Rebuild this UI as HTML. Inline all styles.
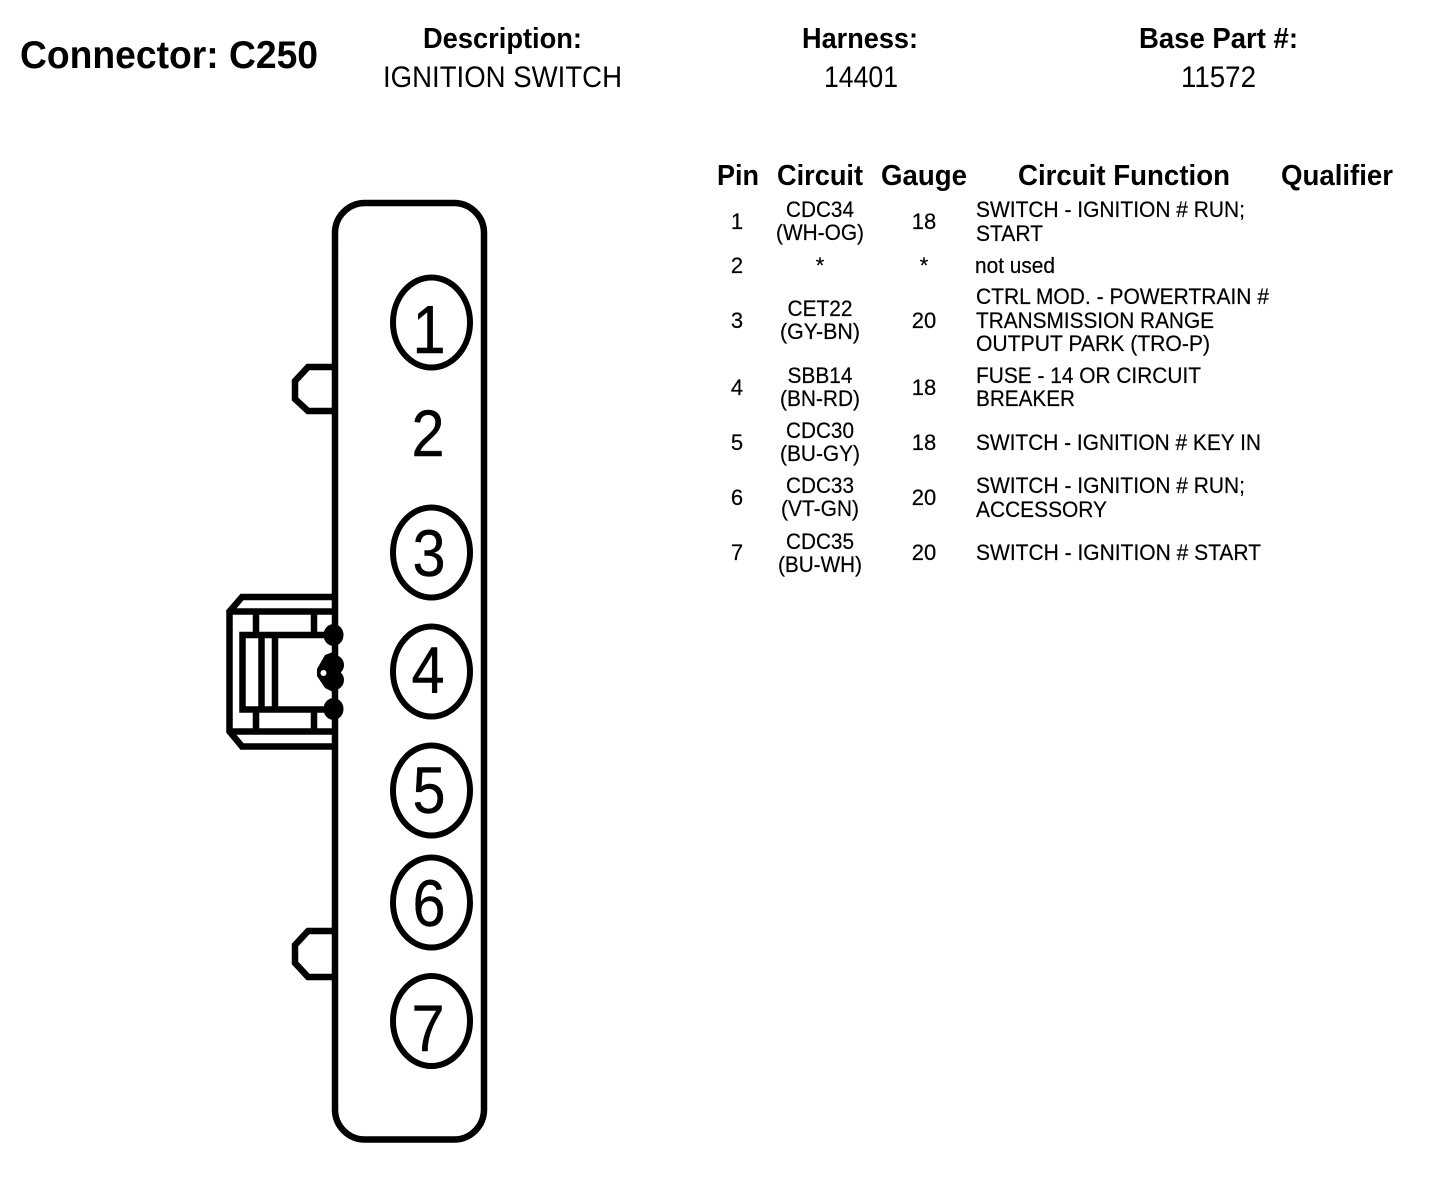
<!DOCTYPE html>
<html><head><meta charset="utf-8"><style>
html,body{margin:0;padding:0;background:#fff;width:1440px;height:1190px;overflow:hidden}
svg{display:block}
text{font-family:"Liberation Sans",Arial,sans-serif;fill:#000}
.h{font-weight:bold;font-size:29px}
.v{font-size:30px}
.b{font-size:22px;stroke:#000;stroke-width:.2px}
.m{text-anchor:middle}
.d{font-size:66px;text-anchor:middle;stroke:#000;stroke-width:.4px}
.s{fill:none;stroke:#000}
</style></head><body>
<svg width="1440" height="1190" viewBox="0 0 1440 1190" xmlns="http://www.w3.org/2000/svg">
<rect width="1440" height="1190" fill="#fff"/>
<text x="20" y="68" font-size="39" font-weight="bold" textLength="298" lengthAdjust="spacingAndGlyphs">Connector: C250</text>
<text class="h" x="423" y="48" textLength="159" lengthAdjust="spacingAndGlyphs">Description:</text>
<text class="v" x="383" y="87" textLength="239" lengthAdjust="spacingAndGlyphs">IGNITION SWITCH</text>
<text class="h" x="802" y="48" textLength="116" lengthAdjust="spacingAndGlyphs">Harness:</text>
<text class="v" x="824" y="87" textLength="74" lengthAdjust="spacingAndGlyphs">14401</text>
<text class="h" x="1139" y="48" textLength="159" lengthAdjust="spacingAndGlyphs">Base Part #:</text>
<text class="v" x="1181" y="87" textLength="75" lengthAdjust="spacingAndGlyphs">11572</text>

<text class="h" x="717" y="185" textLength="42" lengthAdjust="spacingAndGlyphs">Pin</text>
<text class="h" x="777" y="185" textLength="86" lengthAdjust="spacingAndGlyphs">Circuit</text>
<text class="h" x="881" y="185" textLength="86" lengthAdjust="spacingAndGlyphs">Gauge</text>
<text class="h" x="1018" y="185" textLength="212" lengthAdjust="spacingAndGlyphs">Circuit Function</text>
<text class="h" x="1281" y="185" textLength="112" lengthAdjust="spacingAndGlyphs">Qualifier</text>

<g>
<text class="b m" x="737" y="229">1</text><text class="b m" x="737" y="273">2</text><text class="b m" x="737" y="328">3</text><text class="b m" x="737" y="395">4</text><text class="b m" x="737" y="450">5</text><text class="b m" x="737" y="505">6</text><text class="b m" x="737" y="560">7</text>
<text class="b m" x="820" y="217" textLength="68" lengthAdjust="spacingAndGlyphs">CDC34</text><text class="b m" x="820" y="240" textLength="88" lengthAdjust="spacingAndGlyphs">(WH-OG)</text>
<text class="b m" x="820" y="273">*</text>
<text class="b m" x="820" y="316" textLength="65" lengthAdjust="spacingAndGlyphs">CET22</text><text class="b m" x="820" y="339" textLength="80" lengthAdjust="spacingAndGlyphs">(GY-BN)</text>
<text class="b m" x="820" y="383" textLength="65" lengthAdjust="spacingAndGlyphs">SBB14</text><text class="b m" x="820" y="406" textLength="80" lengthAdjust="spacingAndGlyphs">(BN-RD)</text>
<text class="b m" x="820" y="438" textLength="68" lengthAdjust="spacingAndGlyphs">CDC30</text><text class="b m" x="820" y="461" textLength="80" lengthAdjust="spacingAndGlyphs">(BU-GY)</text>
<text class="b m" x="820" y="493" textLength="68" lengthAdjust="spacingAndGlyphs">CDC33</text><text class="b m" x="820" y="516" textLength="78" lengthAdjust="spacingAndGlyphs">(VT-GN)</text>
<text class="b m" x="820" y="549" textLength="68" lengthAdjust="spacingAndGlyphs">CDC35</text><text class="b m" x="820" y="572" textLength="84" lengthAdjust="spacingAndGlyphs">(BU-WH)</text>
<text class="b m" x="924" y="229">18</text><text class="b m" x="924" y="273">*</text><text class="b m" x="924" y="328">20</text><text class="b m" x="924" y="395">18</text><text class="b m" x="924" y="450">18</text><text class="b m" x="924" y="505">20</text><text class="b m" x="924" y="560">20</text>
<text class="b" x="976" y="217" textLength="269" lengthAdjust="spacingAndGlyphs">SWITCH - IGNITION # RUN;</text>
<text class="b" x="976" y="241" textLength="67" lengthAdjust="spacingAndGlyphs">START</text>
<text class="b" x="975" y="273" textLength="80" lengthAdjust="spacingAndGlyphs">not used</text>
<text class="b" x="976" y="304" textLength="293" lengthAdjust="spacingAndGlyphs">CTRL MOD. - POWERTRAIN #</text>
<text class="b" x="976" y="328" textLength="238" lengthAdjust="spacingAndGlyphs">TRANSMISSION RANGE</text>
<text class="b" x="976" y="351" textLength="234" lengthAdjust="spacingAndGlyphs">OUTPUT PARK (TRO-P)</text>
<text class="b" x="976" y="383" textLength="225" lengthAdjust="spacingAndGlyphs">FUSE - 14 OR CIRCUIT</text>
<text class="b" x="976" y="406" textLength="99" lengthAdjust="spacingAndGlyphs">BREAKER</text>
<text class="b" x="976" y="450" textLength="285" lengthAdjust="spacingAndGlyphs">SWITCH - IGNITION # KEY IN</text>
<text class="b" x="976" y="493" textLength="269" lengthAdjust="spacingAndGlyphs">SWITCH - IGNITION # RUN;</text>
<text class="b" x="976" y="517" textLength="131" lengthAdjust="spacingAndGlyphs">ACCESSORY</text>
<text class="b" x="976" y="560" textLength="285" lengthAdjust="spacingAndGlyphs">SWITCH - IGNITION # START</text>
</g>

<g class="s" stroke-width="6">
<path stroke-width="6.5" d="M335 233 A30 30 0 0 1 365 203 H454 A30 30 0 0 1 484 233 V1110 A30 30 0 0 1 454 1139.5 H365 A30 30 0 0 1 335 1110 Z"/>
<ellipse cx="431.5" cy="322.5" rx="38.5" ry="45"/>
<ellipse cx="431.5" cy="552.5" rx="38.5" ry="45"/>
<ellipse cx="431.5" cy="671.5" rx="38.5" ry="45"/>
<ellipse cx="431.5" cy="790.5" rx="38.5" ry="45"/>
<ellipse cx="431.5" cy="902.5" rx="38.5" ry="45"/>
<ellipse cx="431.5" cy="1021" rx="38.5" ry="45"/>
<g stroke-width="6.5">
<path d="M334 367 H308 L295 381 V399 L308 411 H334"/>
<path d="M334 931 H308 L295 945 V963 L308 977 H334"/>
<path d="M334 597 H242 L229.5 611.5 V731.5 L242 746.5 H334"/>
<path d="M229.5 611.5 H334 M229.5 731.5 H334"/>
<path d="M334 635 H242.5 V709.5 H334"/>
<path d="M256 611 V635 M256 709 V731 M314 611 V635 M314 709 V731 M261.5 635 V709 M275 635 V709"/>
</g>
</g>
<ellipse cx="333.5" cy="635" rx="10" ry="11" fill="#000"/>
<ellipse cx="333.5" cy="709" rx="10" ry="11" fill="#000"/>
<circle cx="334" cy="665" r="10" fill="#000"/>
<circle cx="334" cy="680" r="10" fill="#000"/>
<path d="M333 652 L325 655 L317 669 V676 L325 688 L333 692 Z" fill="#000"/>
<ellipse cx="323.5" cy="673" rx="3" ry="3" fill="#fff"/>

<text class="d" transform="translate(429,353) scale(.9,1.02)">1</text>
<text class="d" transform="translate(428,456) scale(.9,1)">2</text>
<text class="d" transform="translate(429,576) scale(.9,1)">3</text>
<text class="d" transform="translate(428,693) scale(.9,1)">4</text>
<text class="d" transform="translate(429,813) scale(.9,1)">5</text>
<text class="d" transform="translate(429,926) scale(.9,1)">6</text>
<text class="d" transform="translate(428,1051) scale(.9,1)">7</text>
</svg>
</body></html>
